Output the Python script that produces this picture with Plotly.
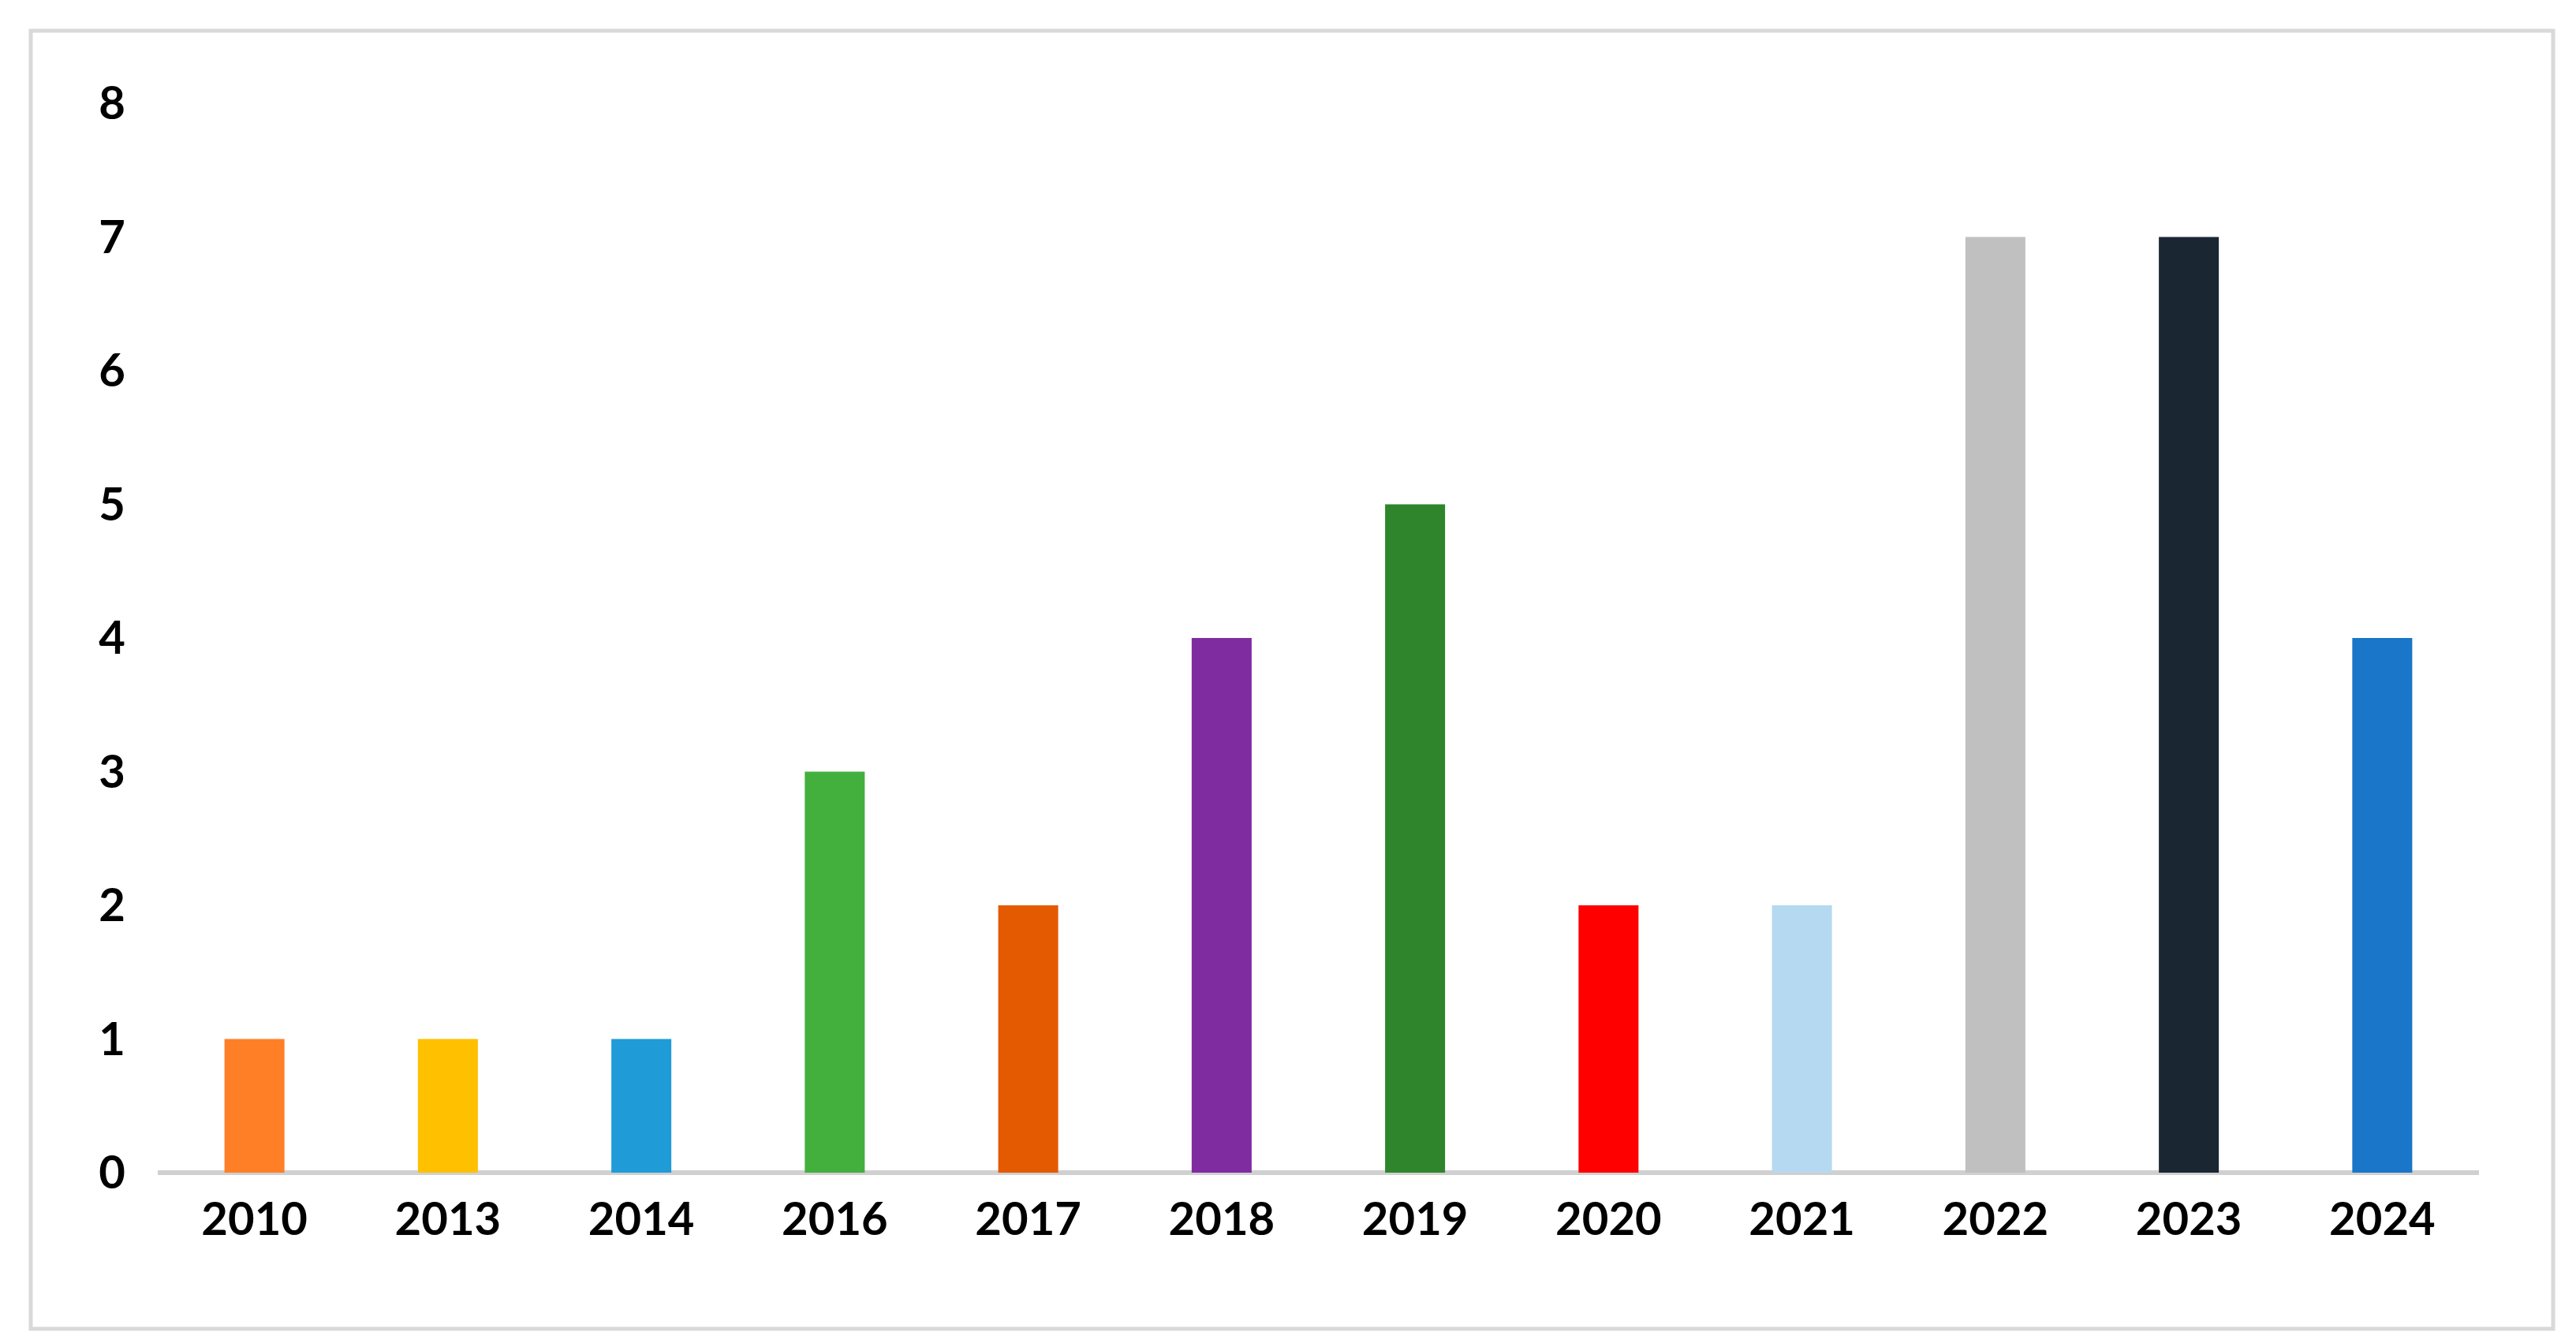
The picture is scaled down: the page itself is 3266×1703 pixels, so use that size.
import plotly.graph_objects as go

years = ["2010","2013","2014","2016","2017","2018","2019","2020","2021","2022","2023","2024"]
counts = [1,1,1,3,2,4,5,2,2,7,7,4]
colors = ["#FF7F27","#FFC000","#1F9BD7","#43B03D","#E35A00","#7F2CA1","#2E852C","#FF0000","#B5D9F1","#C0C0C0","#1A2733","#1976C8"]

W, H = 3266, 1703
L, R, T, B = 192, 131, 123, 224
pw, ph = W - L - R, H - T - B
def px(x): return (x - L) / pw
def py(y): return (H - B - y) / ph

fig = go.Figure(go.Bar(x=years, y=counts, marker_color=colors, marker_line_width=0))
fig.update_layout(
    width=W, height=H, margin=dict(l=L, r=R, t=T, b=B),
    paper_bgcolor="white", plot_bgcolor="white", bargap=0.69, showlegend=False,
    font=dict(family="Lato", size=58, color="black"),
    xaxis=dict(type="category", showgrid=False, showline=False, ticks="", tickfont=dict(family="Lato", size=58, color="black", weight="bold")),
    yaxis=dict(range=[0, 8], dtick=1, showgrid=False, zeroline=True, zerolinecolor="#D0D0D0", zerolinewidth=6,
               showline=False, ticks="", ticklabelstandoff=40,
               tickfont=dict(family="Lato", size=58, color="black", weight="bold")),
    shapes=[dict(type="rect", xref="paper", yref="paper", x0=px(31), x1=px(3229), y0=py(31), y1=py(1677),
                 line=dict(color="#D9D9D9", width=5), fillcolor="rgba(0,0,0,0)", layer="below")],
)
fig.update_xaxes(ticklabelstandoff=20)
fig.write_html("out.html")
